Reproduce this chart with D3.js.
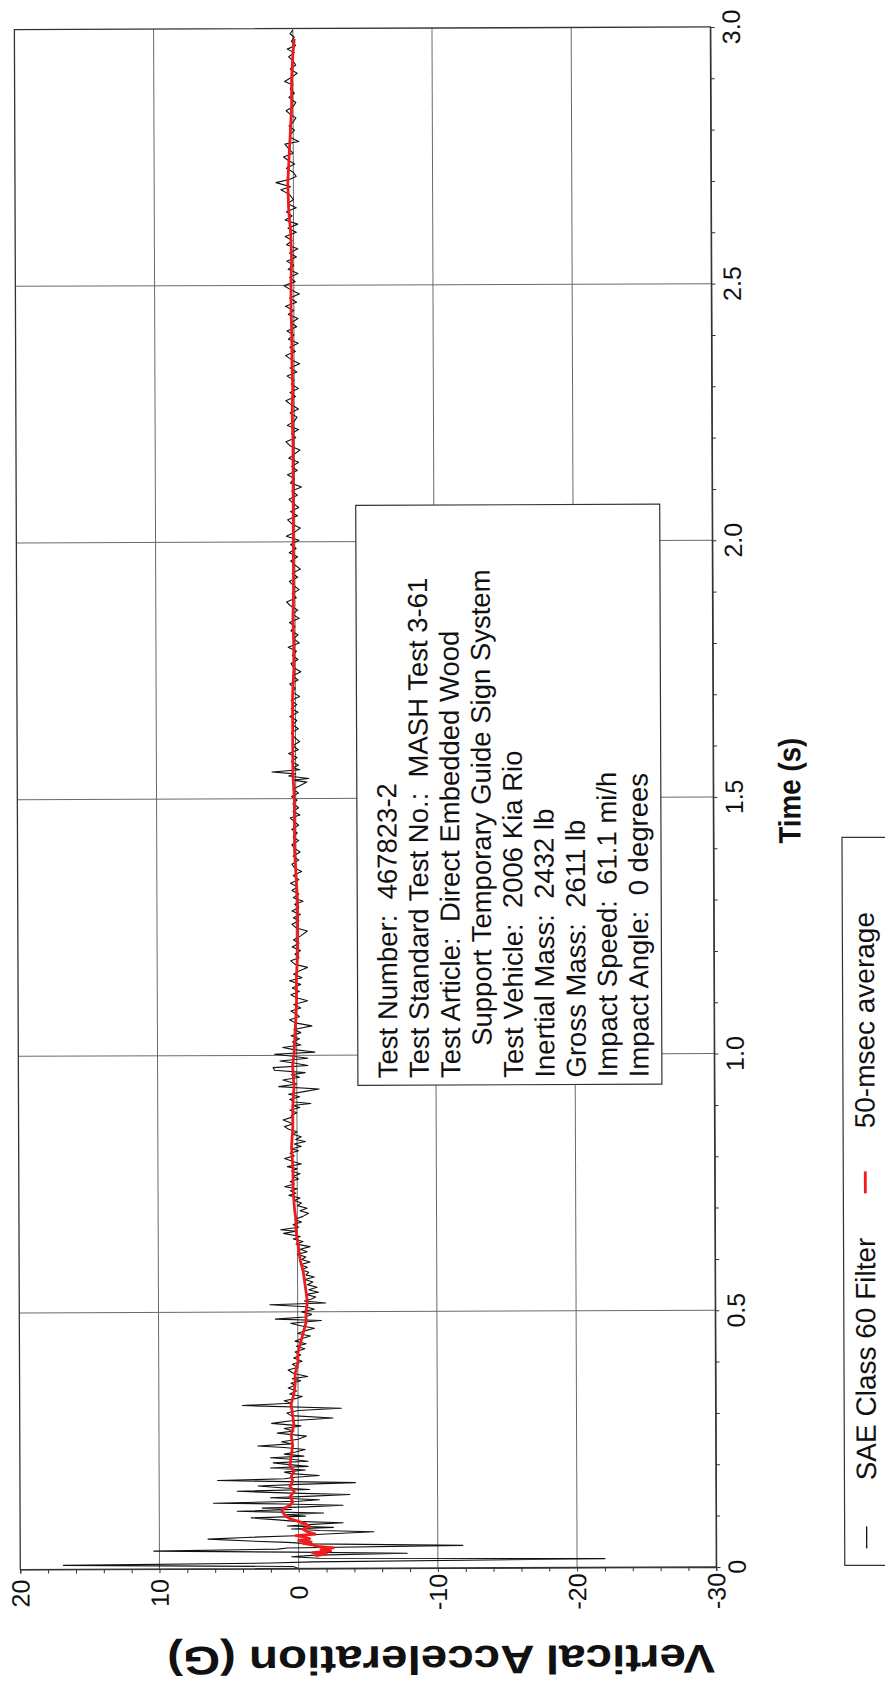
<!DOCTYPE html>
<html><head><meta charset="utf-8">
<script src="https://cdn.jsdelivr.net/npm/d3@7"></script>
<style>html,body{margin:0;padding:0;background:#fff;} svg{display:block;} text{font-family:"Liberation Sans",Arial,Helvetica,sans-serif;}</style>
</head><body><svg id="chart" width="885" height="1685"></svg>
<script>
// ---------------- data ----------------
const accelTicks = [20, 10, 0, -10, -20, -30];
const accelTickLabels = ["20", "10", "0", "-10", "-20", "-30"];
const timeTicks = [0, 0.5, 1.0, 1.5, 2.0, 2.5, 3.0];
const timeTickLabels = ["0", "0.5", "1.0", "1.5", "2.0", "2.5", "3.0"];

// SAE Class 60 filtered trace (time s, accel G)
const sae60Time = [
0.000,0.004,0.008,0.011,0.013,0.017,0.020,0.023,0.026,0.029,0.032,0.035,0.038,0.040,0.044,0.048,0.051,0.054,0.058,0.061,
0.064,0.067,0.071,0.074,0.077,0.080,0.083,0.086,0.089,0.092,0.095,0.099,0.102,0.105,0.108,0.112,0.115,0.118,0.120,0.123,
0.126,0.128,0.131,0.134,0.138,0.141,0.144,0.147,0.151,0.154,0.157,0.161,0.164,0.167,0.172,0.175,0.178,0.181,0.185,0.188,
0.192,0.196,0.199,0.203,0.206,0.209,0.213,0.216,0.219,0.223,0.227,0.232,0.236,0.239,0.243,0.247,0.252,0.258,0.264,0.268,
0.273,0.278,0.283,0.288,0.293,0.298,0.303,0.308,0.312,0.318,0.322,0.327,0.331,0.335,0.340,0.346,0.352,0.357,0.361,0.366,
0.370,0.374,0.380,0.387,0.392,0.398,0.404,0.410,0.416,0.422,0.428,0.433,0.438,0.443,0.448,0.453,0.458,0.463,0.468,0.473,
0.478,0.483,0.486,0.490,0.495,0.500,0.505,0.510,0.514,0.517,0.521,0.525,0.529,0.534,0.538,0.543,0.548,0.553,0.558,0.563,
0.568,0.572,0.577,0.582,0.587,0.592,0.597,0.602,0.607,0.612,0.617,0.622,0.627,0.632,0.637,0.642,0.647,0.653,0.657,0.660,
0.665,0.670,0.675,0.680,0.686,0.692,0.697,0.702,0.707,0.712,0.717,0.722,0.727,0.731,0.736,0.740,0.744,0.749,0.754,0.759,
0.764,0.769,0.774,0.779,0.783,0.788,0.793,0.799,0.804,0.809,0.814,0.818,0.822,0.827,0.832,0.836,0.841,0.846,0.851,0.856,
0.861,0.866,0.870,0.874,0.879,0.883,0.888,0.893,0.898,0.902,0.906,0.909,0.914,0.919,0.924,0.929,0.934,0.939,0.944,0.948,
0.952,0.957,0.962,0.966,0.971,0.976,0.980,0.985,0.989,0.994,0.998,1.002,1.006,1.011,1.015,1.020,1.026,1.032,1.038,1.044,
1.050,1.057,1.063,1.069,1.075,1.080,1.086,1.092,1.099,1.106,1.112,1.118,1.124,1.131,1.138,1.145,1.151,1.158,1.164,1.171,
1.177,1.184,1.190,1.197,1.204,1.211,1.218,1.225,1.232,1.242,1.248,1.255,1.262,1.268,1.274,1.281,1.288,1.294,1.300,1.307,
1.314,1.321,1.328,1.335,1.342,1.350,1.358,1.365,1.372,1.380,1.388,1.396,1.403,1.410,1.418,1.425,1.433,1.440,1.448,1.455,
1.462,1.468,1.475,1.482,1.490,1.497,1.504,1.511,1.518,1.525,1.532,1.536,1.539,1.544,1.548,1.552,1.556,1.560,1.565,1.572,
1.580,1.588,1.595,1.603,1.611,1.620,1.628,1.636,1.644,1.652,1.660,1.668,1.675,1.683,1.691,1.699,1.707,1.715,1.723,1.731,
1.739,1.747,1.755,1.763,1.771,1.779,1.787,1.795,1.803,1.811,1.819,1.827,1.835,1.843,1.851,1.859,1.867,1.875,1.883,1.891,
1.899,1.907,1.915,1.923,1.931,1.939,1.947,1.955,1.963,1.971,1.979,1.987,1.995,2.003,2.011,2.019,2.027,2.035,2.043,2.051,
2.059,2.067,2.075,2.083,2.091,2.099,2.107,2.115,2.123,2.131,2.139,2.147,2.155,2.163,2.171,2.179,2.187,2.195,2.203,2.211,
2.219,2.227,2.235,2.243,2.251,2.259,2.267,2.275,2.283,2.291,2.299,2.307,2.315,2.323,2.331,2.339,2.347,2.355,2.363,2.371,
2.379,2.387,2.395,2.403,2.411,2.419,2.427,2.435,2.443,2.451,2.459,2.467,2.475,2.483,2.491,2.499,2.507,2.515,2.523,2.531,
2.539,2.547,2.555,2.563,2.571,2.579,2.587,2.595,2.603,2.611,2.619,2.627,2.635,2.643,2.651,2.659,2.667,2.677,2.686,2.692,
2.700,2.706,2.712,2.720,2.728,2.736,2.744,2.750,2.757,2.765,2.775,2.780,2.788,2.794,2.802,2.810,2.818,2.826,2.833,2.840,
2.848,2.856,2.866,2.874,2.882,2.890,2.897,2.905,2.913,2.921,2.929,2.937,2.945,2.953,2.960,2.967,2.975,2.983,2.990,2.997];
const sae60Accel = [
0.0,0.4,16.9,2.0,-1.0,-22.0,-1.5,0.5,-1.2,-7.8,0.5,10.4,1.5,0.8,-11.8,-1.0,0.8,3.5,6.5,3.8,
0.2,-2.0,-5.4,-1.5,0.5,-2.5,0.8,-1.0,-3.2,0.2,1.5,3.4,-0.5,1.0,-1.8,4.4,0.5,2.6,-0.6,-3.2,
1.0,6.1,0.0,-1.5,2.0,-1.0,-3.7,0.5,4.4,-0.8,1.0,2.9,0.0,-4.1,5.8,1.0,0.2,-1.5,0.5,1.0,
-0.5,2.0,-0.7,0.8,1.8,-0.7,0.5,2.0,-0.4,1.0,0.2,-0.5,1.0,2.9,0.5,1.2,0.0,-0.6,1.5,0.3,
1.0,-0.2,1.9,0.5,-2.5,0.5,0.8,0.0,-3.1,4.0,0.5,1.0,0.2,-0.3,0.6,0.1,0.7,0.2,0.5,-0.2,
0.4,-0.7,0.3,0.7,0.0,0.4,-0.3,0.3,-0.2,0.2,-0.5,0.1,-0.6,0.2,-0.3,-0.9,0.0,-0.5,-1.2,-0.2,
0.5,-1.7,1.6,-0.5,-1.0,-0.3,-1.2,-0.6,2.0,-2.0,-0.5,-1.0,-1.3,-0.6,-1.5,-0.8,-1.4,-0.7,-1.1,-0.5,
-1.2,-0.6,-0.8,-0.3,-0.7,-0.2,-0.9,-0.3,-0.6,0.0,-0.7,-0.2,-0.9,0.1,-0.4,0.3,-0.2,1.0,0.1,1.2,
-0.1,0.3,-0.3,0.2,-0.4,-0.8,-0.2,-0.7,0.0,-0.3,0.2,-0.2,0.6,0.1,0.5,0.0,0.9,0.2,0.5,-0.1,
0.3,-0.2,0.4,0.0,0.7,-0.3,0.3,0.9,0.2,0.5,-0.1,0.4,-0.3,0.2,-0.6,0.1,-0.3,0.3,0.0,0.6,
0.9,0.3,0.6,1.0,0.4,0.4,0.0,0.5,-0.2,0.3,-1.0,0.2,0.5,-0.2,0.6,-0.5,-1.6,1.3,0.0,0.5,
1.0,-0.2,0.4,-0.6,1.6,1.7,-0.8,0.2,1.2,-0.8,0.3,1.6,-1.3,0.2,1.0,-0.3,0.3,-0.2,0.4,-0.3,
0.2,-1.1,0.1,0.5,-0.2,0.0,0.4,-0.3,0.2,-0.8,0.0,0.4,-0.2,0.3,-0.3,0.5,-0.4,0.2,-0.2,-0.8,
0.1,0.4,-0.2,0.1,-0.3,0.3,-0.2,0.2,-0.3,-0.8,0.0,0.3,-0.2,0.2,-0.3,0.3,-0.2,0.1,-0.5,0.2,
-0.2,0.3,-0.1,0.4,-0.2,0.2,-0.4,0.1,0.3,-0.2,0.2,-0.3,0.1,0.3,-0.2,0.2,-0.1,0.3,-0.2,0.1,
0.4,-0.3,0.2,-0.2,0.2,-0.1,0.3,-0.2,0.2,-0.3,-0.8,0.2,-0.95,0.5,0.0,1.7,-0.3,0.2,-0.2,0.3,
-0.1,0.5,-0.2,0.2,-0.3,0.1,0.3,-0.2,0.2,-0.1,0.4,-0.2,0.3,-0.1,0.3,-0.3,0.2,0.0,0.4,-0.2,
0.2,-0.4,0.1,0.3,-0.2,0.2,-0.1,0.5,-0.3,0.1,-0.2,0.3,0.0,0.4,-0.3,0.2,-0.2,0.3,0.6,-0.1,
0.2,-0.3,0.1,0.4,-0.2,0.2,-0.4,0.0,0.3,-0.2,0.4,-0.1,0.3,-0.3,0.6,0.0,-0.4,0.2,0.5,-0.2,
0.3,-0.3,0.1,0.4,-0.2,0.2,-0.5,0.3,0.0,0.5,-0.2,0.2,-0.3,0.4,0.0,-0.4,0.3,0.6,-0.1,0.2,
-0.3,0.5,0.0,-0.2,0.3,-0.3,0.2,0.6,-0.1,0.3,-0.3,0.2,0.0,0.5,-0.2,0.3,-0.4,0.2,0.6,-0.1,
0.3,-0.3,0.4,0.0,0.5,-0.2,0.2,-0.3,0.4,0.0,0.6,-0.2,0.3,-0.4,0.2,0.7,-0.1,0.3,-0.3,0.4,
0.0,0.5,-0.2,0.3,-0.3,0.5,0.1,0.6,-0.2,0.4,-0.3,0.6,0.1,0.5,-0.2,0.4,0.0,0.3,0.9,0.2,
1.25,0.3,-0.2,0.0,0.5,-0.1,0.4,0.7,0.0,0.3,0.6,-0.4,0.2,0.2,-0.1,0.3,0.0,-0.2,0.2,0.5,
0.0,-0.2,0.3,-0.1,0.2,0.0,0.6,0.1,-0.3,0.2,-0.2,0.0,0.3,-0.1,0.4,-0.2,0.1,-0.1,0.2,0.0];

// 50-msec moving average (time s, accel G)
const avg50Time = [
0.025,0.028,0.031,0.034,0.037,0.040,0.043,0.046,0.049,0.052,0.055,0.058,0.061,0.064,0.067,0.072,0.077,0.082,0.087,0.092,
0.097,0.102,0.108,0.113,0.118,0.123,0.130,0.140,0.150,0.160,0.170,0.180,0.190,0.200,0.220,0.240,0.260,0.280,0.300,0.320,
0.340,0.360,0.380,0.400,0.420,0.440,0.460,0.480,0.500,0.520,0.540,0.560,0.580,0.600,0.620,0.640,0.660,0.680,0.700,0.740,
0.780,0.820,0.860,0.900,0.940,0.980,1.000,1.050,1.100,1.150,1.200,1.250,1.300,1.350,1.400,1.450,1.500,1.550,1.600,1.650,
1.700,1.750,1.800,1.850,1.900,1.950,2.000,2.050,2.100,2.150,2.200,2.250,2.300,2.350,2.400,2.450,2.500,2.550,2.600,2.650,
2.700,2.750,2.800,2.850,2.900,2.950,2.980];
const avg50Accel = [
-1.2,-2.0,-1.0,-2.3,-1.6,-2.5,-1.4,-1.0,-0.3,-0.9,0.0,-0.8,-0.5,0.2,-1.2,-0.6,-0.3,-0.8,-0.5,0.0,
0.6,0.9,1.1,1.2,1.0,0.6,0.4,0.6,0.3,0.6,0.4,0.5,0.3,0.6,0.5,0.4,0.5,0.3,0.4,0.5,
0.3,0.2,0.2,0.0,0.0,-0.2,-0.4,-0.6,-0.6,-0.7,-0.6,-0.5,-0.4,-0.2,-0.1,0.0,0.1,0.1,0.2,0.3,
0.3,0.4,0.3,0.3,0.2,0.3,0.2,0.1,0.0,0.0,-0.1,-0.1,-0.1,0.0,0.1,0.1,0.1,0.2,0.2,0.2,
0.2,0.1,0.1,0.15,0.1,0.1,0.1,0.1,0.1,0.1,0.1,0.15,0.1,0.15,0.15,0.2,0.2,0.15,0.2,0.35,
0.4,0.3,0.2,0.1,0.1,0.0,-0.1];

const infoLines = [
  "Test Number:  467823-2",
  "Test Standard Test No.:  MASH Test 3-61",
  "Test Article:  Direct Embedded Wood",
  "Support Temporary Guide Sign System",
  "Test Vehicle:  2006 Kia Rio",
  "Inertial Mass:  2432 lb",
  "Gross Mass:  2611 lb",
  "Impact Speed:  61.1 mi/h",
  "Impact Angle:  0 degrees"];
const infoIndent = [0, 0, 0, 1, 0, 0, 0, 0, 0];
const legendLabels = ["SAE Class 60 Filter", "50-msec average"];
const legendColors = ["#111111", "#ee1c1c"];

// ---------------- layout ----------------
const svg = d3.select("#chart");
const root = svg.append("g").attr("transform", "rotate(-0.22,442,842)");

const accelX = d3.scaleLinear().domain([20, -30]).range([17.5, 713.5]);
const timeY = d3.scaleLinear().domain([0, 3]).range([1568, 28]);

const plotLeft = accelX(20), plotRight = accelX(-30), plotTop = timeY(3), plotBottom = timeY(0);

// grid
root.append("g").selectAll("line").data(accelTicks.filter(v => v !== 20 && v !== -30)).join("line")
  .attr("x1", d => accelX(d)).attr("x2", d => accelX(d))
  .attr("y1", plotTop).attr("y2", plotBottom)
  .attr("stroke", "#6a6a6a").attr("stroke-width", 1);
root.append("g").selectAll("line").data(timeTicks.filter(v => v !== 0 && v !== 3)).join("line")
  .attr("y1", d => timeY(d)).attr("y2", d => timeY(d))
  .attr("x1", plotLeft).attr("x2", plotRight)
  .attr("stroke", "#6a6a6a").attr("stroke-width", 1);

// data lines
const pts60 = sae60Time.map((t, i) => [t, sae60Accel[i]]);
const ptsAvg = avg50Time.map((t, i) => [t, avg50Accel[i]]);
const line = d3.line().x(d => accelX(d[1])).y(d => timeY(d[0]));
root.append("path").attr("d", line(pts60)).attr("fill", "none")
  .attr("stroke", legendColors[0]).attr("stroke-width", 1.1).attr("stroke-linejoin", "round");
root.append("path").attr("d", line(ptsAvg)).attr("fill", "none")
  .attr("stroke", legendColors[1]).attr("stroke-width", 2.8).attr("stroke-linejoin", "round");

// frame
root.append("rect").attr("x", plotLeft).attr("y", plotTop)
  .attr("width", plotRight - plotLeft).attr("height", plotBottom - plotTop)
  .attr("fill", "none").attr("stroke", "#333").attr("stroke-width", 1.3);

// accel axis (bottom)
const accelAxis = d3.axisBottom(accelX).tickValues(d3.range(20, -31, -2)).tickSize(4).tickFormat("");
root.append("g").attr("transform", `translate(0,${plotBottom})`).call(accelAxis)
  .call(g => g.select(".domain").attr("stroke", "#333"))
  .call(g => g.selectAll(".tick line").attr("stroke", "#333"));
root.append("g").selectAll("text").data(accelTicks).join("text")
  .attr("x", d => accelX(d)).attr("y", 1592)
  .attr("transform", d => `rotate(-90,${accelX(d)},1592)`)
  .attr("text-anchor", "middle").attr("dominant-baseline", "central")
  .attr("font-size", 25).attr("fill", "#111")
  .text((d, i) => accelTickLabels[i]);

// time axis (right)
const timeAxis = d3.axisRight(timeY).tickValues(d3.range(0, 30.5, 1).map(v => v / 10)).tickSize(4).tickFormat("");
root.append("g").attr("transform", `translate(${plotRight},0)`).call(timeAxis)
  .call(g => g.select(".domain").attr("stroke", "#333"))
  .call(g => g.selectAll(".tick line").attr("stroke", "#333"));
root.append("g").selectAll("text").data(timeTicks).join("text")
  .attr("x", 734).attr("y", d => timeY(d))
  .attr("transform", d => `rotate(-90,734,${timeY(d)})`)
  .attr("text-anchor", "middle").attr("dominant-baseline", "central")
  .attr("font-size", 25).attr("fill", "#111")
  .text((d, i) => timeTickLabels[i]);

// axis titles
root.append("text").attr("x", 790).attr("y", 792)
  .attr("transform", "rotate(-90,790,792)")
  .attr("text-anchor", "middle").attr("dominant-baseline", "central")
  .attr("font-size", 31).attr("font-weight", "bold").attr("fill", "#111")
  .attr("textLength", 106).attr("lengthAdjust", "spacingAndGlyphs")
  .text("Time (s)");
root.append("text").attr("x", 438).attr("y", 1660)
  .attr("transform", "rotate(180,438,1660)")
  .attr("text-anchor", "middle").attr("dominant-baseline", "central")
  .attr("font-size", 40).attr("font-weight", "bold").attr("fill", "#111")
  .attr("textLength", 548).attr("lengthAdjust", "spacingAndGlyphs")
  .text("Vertical Acceleration (G)");

// info box
root.append("rect").attr("x", 357).attr("y", 505).attr("width", 304).attr("height", 580)
  .attr("fill", "#fff").attr("stroke", "#333").attr("stroke-width", 1.2);
root.append("g").selectAll("text").data(infoLines).join("text")
  .attr("x", (d, i) => 387 + i * 31.4)
  .attr("y", (d, i) => infoIndent[i] ? 1046 : 1078)
  .attr("transform", (d, i) => `rotate(-90,${387 + i * 31.4},${infoIndent[i] ? 1046 : 1078})`)
  .attr("text-anchor", "start").attr("dominant-baseline", "central")
  .attr("font-size", 27.5).attr("fill", "#111")
  .style("white-space", "pre")
  .text(d => d);

// legend
root.append("rect").attr("x", 842).attr("y", 839).attr("width", 90).attr("height", 728)
  .attr("fill", "#fff").attr("stroke", "#333").attr("stroke-width", 1.2);
const legendDashY = [1550, 1195];
const legendTextY = [1482, 1130];
legendLabels.forEach((lab, i) => {
  root.append("line").attr("x1", 864).attr("x2", 864)
    .attr("y1", legendDashY[i]).attr("y2", legendDashY[i] - 22)
    .attr("stroke", legendColors[i]).attr("stroke-width", i ? 2.8 : 1.3);
  root.append("text").attr("x", 864).attr("y", legendTextY[i])
    .attr("transform", `rotate(-90,864,${legendTextY[i]})`)
    .attr("text-anchor", "start").attr("dominant-baseline", "central")
    .attr("font-size", 28).attr("fill", "#111").text(lab);
});
</script></body></html>
